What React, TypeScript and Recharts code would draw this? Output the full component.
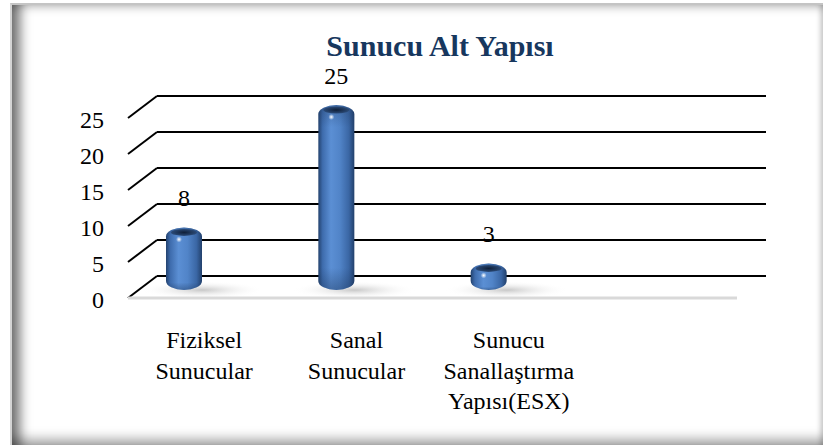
import { BarChart, Bar, XAxis, YAxis, CartesianGrid, LabelList } from "recharts"

const categories = ["Fiziksel\nSunucular", "Sanal\nSunucular", "Sunucu\nSanallaştırma\nYapısı(ESX)"]
const serverCounts = [8, 25, 3]
const yTicks = [0, 5, 10, 15, 20, 25]

const chartData = categories.map((name, i) => ({ name, value: serverCounts[i] }))

const FONT = "Liberation Serif"
// 3D look: back wall sits up-right of the front edge, bars in between
const BACK_DX = 29
const BACK_DY = -22
const BAR_DX = -20
const BAR_DY = -8

function GridLine(props: any) {
  const { x1, y1, x2 } = props
  return (
    <g>
      <line x1={x1} y1={y1} x2={x1 + BACK_DX} y2={y1 + BACK_DY} stroke="#000" strokeWidth={2} />
      <line x1={x1 + BACK_DX} y1={y1 + BACK_DY} x2={x2 + BACK_DX} y2={y1 + BACK_DY} stroke="#000" strokeWidth={2} />
    </g>
  )
}

function YTick({ x, y, payload }: any) {
  return (
    <text x={x - 24} y={y + 10} textAnchor="end" fill="#000" fontSize={24} fontFamily={FONT}>
      {payload?.value}
    </text>
  )
}

function XTick({ x, y, payload }: any) {
  const lines = String(payload?.value ?? "").split("\n")
  return (
    <text x={x} y={y} textAnchor="middle" fill="#000" fontSize={24} fontFamily={FONT}>
      {lines.map((l, i) => (
        <tspan key={i} x={x} y={y + 50 + i * 30.5}>
          {l}
        </tspan>
      ))}
    </text>
  )
}

function Cylinder(props: any) {
  const { x, y, width, height } = props
  const bx = x + BAR_DX
  const w = width
  const bottom = y + height + BAR_DY
  const top = y + BAR_DY - 5
  const rx = w / 2
  const ry = Math.min(9, (bottom - top) / 2)
  const cx = bx + w / 2
  const d = `M${bx},${top + ry} L${bx},${bottom - ry} A${rx},${ry} 0 0 0 ${bx + w},${bottom - ry} L${bx + w},${top + ry} A${rx},${ry} 0 0 0 ${bx},${top + ry} Z`
  return (
    <g>
      <ellipse cx={cx + 18} cy={bottom} rx={62} ry={9} fill="url(#floorShadow)" />
      <path d={d} fill="url(#cylBody)" />
      <path d={d} fill="url(#cylShade)" />
      <ellipse cx={cx} cy={top + 5} rx={rx - 5} ry={3.5} fill="url(#cylTop)" />
      <circle cx={cx - 5} cy={top + 12} r={3} fill="url(#cylGlint)" />
    </g>
  )
}

function ValueLabel({ x, y, width, value }: any) {
  return (
    <text x={x + width / 2 + BAR_DX} y={y + BAR_DY - 5 - 21} textAnchor="middle" fill="#000" fontSize={24} fontFamily={FONT}>
      {value}
    </text>
  )
}

export default function App() {
  return (
    <div style={{ position: "absolute", left: 0, top: 0, width: 823, height: 445, background: "#fff", overflow: "hidden" }}>
      <div
        style={{
          position: "absolute",
          left: 10,
          top: 3,
          width: 813,
          height: 442,
          boxSizing: "border-box",
          borderTop: "2px solid #c4c4c4",
          borderLeft: "2px solid #d4d4d4",
          boxShadow:
            "inset 16px 0 12px -8px rgba(0,0,0,0.55), inset 0 9px 8px -6px rgba(0,0,0,0.22), inset 0 -14px 12px -8px rgba(0,0,0,0.35), inset -6px 0 5px -3px rgba(0,0,0,0.18)",
        }}
      />
      <div
        style={{
          position: "absolute",
          left: 240,
          top: 31,
          width: 400,
          textAlign: "center",
          fontFamily: FONT,
          fontWeight: "bold",
          fontSize: 30,
          lineHeight: "30px",
          color: "#17375e",
        }}
      >
        Sunucu Alt Yapısı
      </div>
      <div style={{ position: "absolute", left: 0, top: 0 }}>
        <BarChart width={823} height={445} data={chartData} margin={{ top: 118, right: 86, bottom: 117, left: 0 }}>
          <defs>
            <linearGradient id="cylBody" x1="0" y1="0" x2="1" y2="0">
              <stop offset="0%" stopColor="#23426e" />
              <stop offset="12%" stopColor="#3e6cad" />
              <stop offset="35%" stopColor="#5b8fd4" />
              <stop offset="60%" stopColor="#5184c8" />
              <stop offset="85%" stopColor="#3a66a4" />
              <stop offset="100%" stopColor="#22406b" />
            </linearGradient>
            <linearGradient id="cylShade" x1="0" y1="0" x2="0" y2="1">
              <stop offset="0%" stopColor="#1c355a" stopOpacity={0.35} />
              <stop offset="12%" stopColor="#1c355a" stopOpacity={0} />
              <stop offset="88%" stopColor="#1c355a" stopOpacity={0} />
              <stop offset="100%" stopColor="#1c355a" stopOpacity={0.4} />
            </linearGradient>
            <radialGradient id="cylTop">
              <stop offset="0%" stopColor="#0f1f38" />
              <stop offset="100%" stopColor="#2b4b78" />
            </radialGradient>
            <radialGradient id="cylGlint">
              <stop offset="0%" stopColor="#ffffff" />
              <stop offset="100%" stopColor="#ffffff" stopOpacity={0} />
            </radialGradient>
            <radialGradient id="floorShadow">
              <stop offset="0%" stopColor="#9a9a9a" stopOpacity={0.55} />
              <stop offset="100%" stopColor="#ffffff" stopOpacity={0} />
            </radialGradient>
          </defs>
          <CartesianGrid vertical={false} horizontal={(p: any) => <GridLine key={p.key} {...p} />} />
          <XAxis
            dataKey="name"
            interval={0}
            padding={{ left: 0, right: 152 }}
            axisLine={{ stroke: "#d9d9d9", strokeWidth: 3 }}
            tickLine={false}
            tickSize={0}
            tickMargin={0}
            height={30}
            tick={<XTick />}
          />
          <YAxis
            domain={[0, 25]}
            ticks={yTicks}
            width={128}
            axisLine={false}
            tickLine={false}
            tickSize={0}
            tickMargin={0}
            tick={<YTick />}
          />
          <Bar dataKey="value" barSize={36} shape={<Cylinder />} isAnimationActive={false}>
            <LabelList dataKey="value" content={<ValueLabel />} />
          </Bar>
        </BarChart>
      </div>
    </div>
  )
}
